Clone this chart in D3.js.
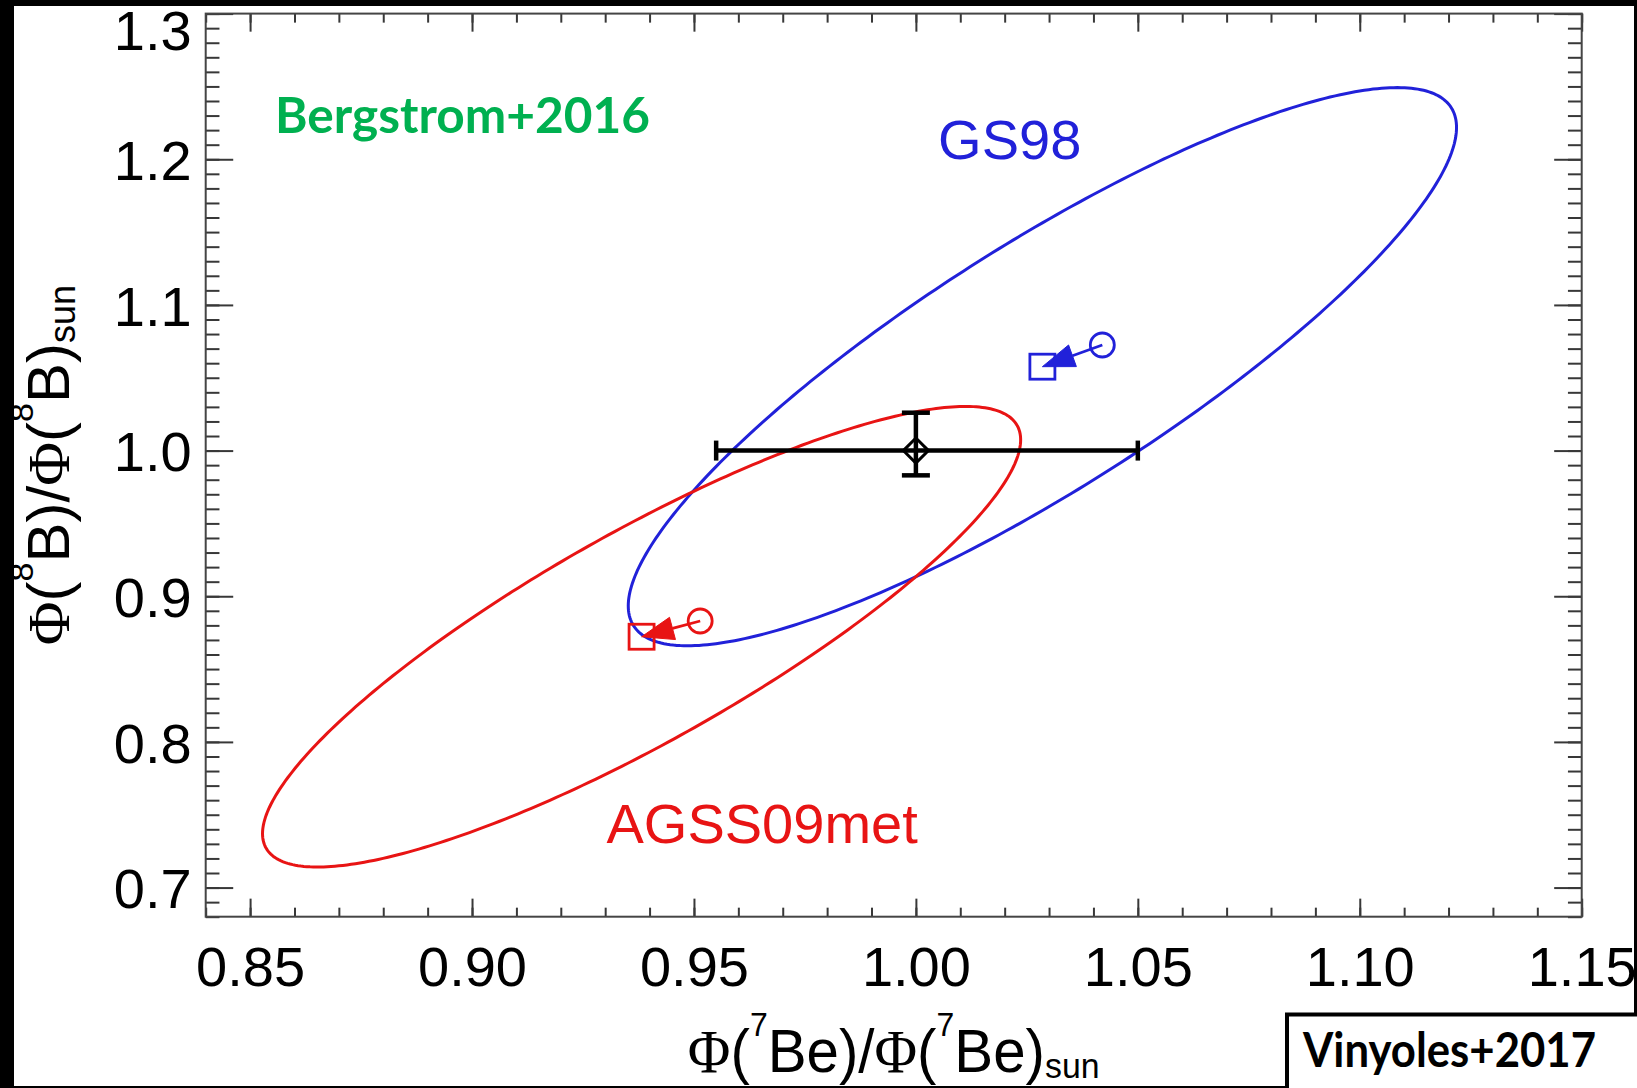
<!DOCTYPE html>
<meta charset="utf-8">
<style>
body { margin: 0; background: #000; }
svg { display: block; }
.axis path { display: none; }
.axis line { stroke: #383838; stroke-width: 2px; }
.axis text { font-family: "Liberation Sans", Arial, sans-serif; fill: #000; }
.title { font-family: "Liberation Sans", Arial, sans-serif; fill: #000; }
.phi { font-family: "Liberation Serif", "Times New Roman", serif; }
.hand { font-family: "Comic Sans MS", Lato, sans-serif; font-weight: 700; }
.model { font-family: "Liberation Sans", Arial, sans-serif; }
</style>
<body>
<svg id="chart" width="1637" height="1088"></svg>
<script src="https://d3js.org/d3.v7.min.js"></script>
<script>

var width = 1637,
    height = 1088;
var margin = {top: 13.6, right: 55.3, bottom: 171.3, left: 205.7};

// tick labels
var xMajor = [0.85, 0.90, 0.95, 1.00, 1.05, 1.10, 1.15];
var yMajor = [0.7, 0.8, 0.9, 1.0, 1.1, 1.2, 1.3];

// solar models: new prediction (square, ellipse centre) and old one (circle)
var models = ["GS98", "AGSS09met"];
var newX = [1.0285, 0.9382];
var newY = [1.0576, 0.8722];
var oldX = [1.0420, 0.9514];
var oldY = [1.0725, 0.8830];
// contour: half widths and correlation
var ellSx = [0.0933, 0.0854];
var ellSy = [0.1916, 0.1581];
var ellRho = [0.857, 0.855];

// measured fluxes (low, value, high)
var measX = [0.955, 1.000, 1.050];
var measY = [0.983, 1.000, 1.026];

var colors = ["#2121d9", "#e81414"];

var svg = d3.select("#chart");
svg.append("rect").attr("width", width).attr("height", height).attr("fill", "#000");
svg.append("rect").attr("x", 14).attr("y", 6).attr("width", 1620).attr("height", 1080).attr("fill", "#fff");

var x = d3.scaleLinear().domain([0.84, 1.15]).range([margin.left, width - margin.right]);
var y = d3.scaleLinear().domain([0.68, 1.30]).range([height - margin.bottom, margin.top]);

var x0 = x.range()[0], x1 = x.range()[1], y0 = y.range()[0], y1 = y.range()[1];
var xTickLen = 0.02 * (y0 - y1),
    yTickLen = 0.02 * (x1 - x0);

var xMinor = d3.range(84, 116).map(d => d / 100);
var yMinor = d3.range(68, 131).map(d => d / 100);

function addAxis(axis, tx, ty) {
  return svg.append("g")
    .attr("class", "axis")
    .attr("transform", "translate(" + tx + "," + ty + ")")
    .call(axis);
}

// minor ticks, all four sides
addAxis(d3.axisBottom(x).tickValues(xMinor).tickSize(-xTickLen / 2).tickFormat(""), 0, y0);
addAxis(d3.axisTop(x).tickValues(xMinor).tickSize(-xTickLen / 2).tickFormat(""), 0, y1);
addAxis(d3.axisLeft(y).tickValues(yMinor).tickSize(-yTickLen / 2).tickFormat(""), x0, 0);
addAxis(d3.axisRight(y).tickValues(yMinor).tickSize(-yTickLen / 2).tickFormat(""), x1, 0);

// major ticks
var xAx = addAxis(d3.axisBottom(x).tickValues(xMajor).tickSize(-xTickLen).tickPadding(30)
                    .tickFormat(d3.format(".2f")), 0, y0);
addAxis(d3.axisTop(x).tickValues(xMajor).tickSize(-xTickLen).tickFormat(""), 0, y1);
var yAx = addAxis(d3.axisLeft(y).tickValues(yMajor).tickSize(-yTickLen).tickPadding(14)
                    .tickFormat(d3.format(".1f")), x0, 0);
addAxis(d3.axisRight(y).tickValues(yMajor).tickSize(-yTickLen).tickFormat(""), x1, 0);

xAx.selectAll("text").attr("font-size", 56);
yAx.selectAll("text").attr("font-size", 56).attr("dy", "0.36em");
yAx.selectAll(".tick").filter(d => d === 1.3).select("text").attr("y", 16);

svg.append("rect")
   .attr("x", x0).attr("y", y1)
   .attr("width", x1 - x0).attr("height", y0 - y1)
   .attr("fill", "none")
   .attr("stroke", "#454545")
   .attr("stroke-width", 2);

// contours
var angles = d3.range(0, 360, 1).map(a => a * Math.PI / 180);
var line = d3.line()
             .x(d => x(d[0]))
             .y(d => y(d[1]))
             .curve(d3.curveLinearClosed);

models.forEach(function(m, i) {
  var r = ellRho[i], q = Math.sqrt(1 - r * r);
  var pts = angles.map(t => [newX[i] + ellSx[i] * Math.cos(t),
                             newY[i] + ellSy[i] * (r * Math.cos(t) + q * Math.sin(t))]);
  svg.append("path")
     .attr("d", line(pts))
     .attr("fill", "none")
     .attr("stroke", colors[i])
     .attr("stroke-width", 3);
});

// measurement with error bars
var eb = svg.append("g").attr("stroke", "#000").attr("stroke-width", 4.5).attr("fill", "none");
eb.append("line").attr("x1", x(measX[0])).attr("x2", x(measX[2]))
  .attr("y1", y(measY[1])).attr("y2", y(measY[1]));
eb.append("line").attr("x1", x(measX[1])).attr("x2", x(measX[1]))
  .attr("y1", y(measY[0])).attr("y2", y(measY[2]));
[measX[0], measX[2]].forEach(function(v) {
  eb.append("line").attr("x1", x(v)).attr("x2", x(v))
    .attr("y1", y(measY[1]) - 10).attr("y2", y(measY[1]) + 10);
});
[measY[0], measY[2]].forEach(function(v) {
  eb.append("line").attr("x1", x(measX[1]) - 14).attr("x2", x(measX[1]) + 14)
    .attr("y1", y(v)).attr("y2", y(v));
});
eb.append("path")
  .attr("d", d3.symbol(d3.symbolDiamond2, 400)())
  .attr("transform", "translate(" + x(measX[1]) + "," + y(measY[1]) + ")")
  .attr("stroke-width", 3);

// model points and shift arrows
models.forEach(function(m, i) {
  var g = svg.append("g").attr("stroke", colors[i]).attr("fill", "none").attr("stroke-width", 2.8);
  var sx = x(newX[i]), sy = y(newY[i]), cx = x(oldX[i]), cy = y(oldY[i]);
  g.append("rect").attr("x", sx - 12.5).attr("y", sy - 12.5).attr("width", 25).attr("height", 25);
  g.append("circle").attr("cx", cx).attr("cy", cy).attr("r", 12);

  var dx = sx - cx, dy = sy - cy, len = Math.sqrt(dx * dx + dy * dy);
  var ux = dx / len, uy = dy / len;
  var head = 32, half = 11.5;
  var bx = sx - ux * head, by = sy - uy * head;
  g.append("line").attr("x1", cx).attr("y1", cy).attr("x2", bx).attr("y2", by);
  g.append("path")
   .attr("d", "M" + sx + "," + sy +
              "L" + (bx - uy * half) + "," + (by + ux * half) +
              "L" + (bx + uy * half) + "," + (by - ux * half) + "Z")
   .attr("fill", colors[i])
   .attr("stroke-width", 1);
});

// model names
svg.append("text").attr("class", "model")
   .attr("x", x(1.0050)).attr("y", y(1.2005))
   .attr("font-size", 56).attr("fill", colors[0]).text(models[0]);
svg.append("text").attr("class", "model")
   .attr("x", x(0.9303)).attr("y", y(0.7303))
   .attr("font-size", 56).attr("fill", colors[1]).text(models[1]);

svg.append("text").attr("class", "hand")
   .attr("x", 275).attr("y", 133)
   .attr("font-size", 49)
   .attr("textLength", 375).attr("lengthAdjust", "spacingAndGlyphs")
   .attr("fill", "#00b050")
   .text("Bergstrom+2016");

// axis titles
function fluxTitle(t, iso, el) {
  t.append("tspan").attr("class", "phi").text("Φ");
  t.append("tspan").text("(");
  t.append("tspan").attr("font-size", 34).attr("dy", -36).text(iso);
  t.append("tspan").attr("dy", 36).text(el + ")/");
  t.append("tspan").attr("class", "phi").text("Φ");
  t.append("tspan").text("(");
  t.append("tspan").attr("font-size", 34).attr("dy", -36).text(iso);
  t.append("tspan").attr("dy", 36).text(el + ")");
  t.append("tspan").attr("font-size", 36).attr("dy", 6).text("sun");
}

var xt = svg.append("text").attr("class", "title")
   .attr("transform", "translate(" + ((x0 + x1) / 2) + ",1072) scale(0.94,1)")
   .attr("text-anchor", "middle")
   .attr("font-size", 62);
fluxTitle(xt, "7", "Be");

var yt = svg.append("text").attr("class", "title")
   .attr("transform", "translate(69," + ((y0 + y1) / 2) + ") rotate(-90)")
   .attr("text-anchor", "middle")
   .attr("font-size", 60);
fluxTitle(yt, "8", "B");

// black border of the slide
svg.append("rect").attr("x", 0).attr("y", 0).attr("width", width).attr("height", 6).attr("fill", "#000");
svg.append("rect").attr("x", 0).attr("y", 0).attr("width", 14).attr("height", height).attr("fill", "#000");
svg.append("rect").attr("x", 1634).attr("y", 0).attr("width", 3).attr("height", height).attr("fill", "#000");
svg.append("rect").attr("x", 0).attr("y", 1086).attr("width", width).attr("height", 2).attr("fill", "#000");

// citation box
svg.append("rect")
   .attr("x", 1287).attr("y", 1014.5)
   .attr("width", 360).attr("height", 90)
   .attr("fill", "#fff").attr("stroke", "#000").attr("stroke-width", 4);
svg.append("text").attr("class", "hand")
   .attr("x", 1303).attr("y", 1067)
   .attr("font-size", 48)
   .attr("textLength", 293).attr("lengthAdjust", "spacingAndGlyphs")
   .attr("fill", "#000")
   .text("Vinyoles+2017");

</script>
</body>
